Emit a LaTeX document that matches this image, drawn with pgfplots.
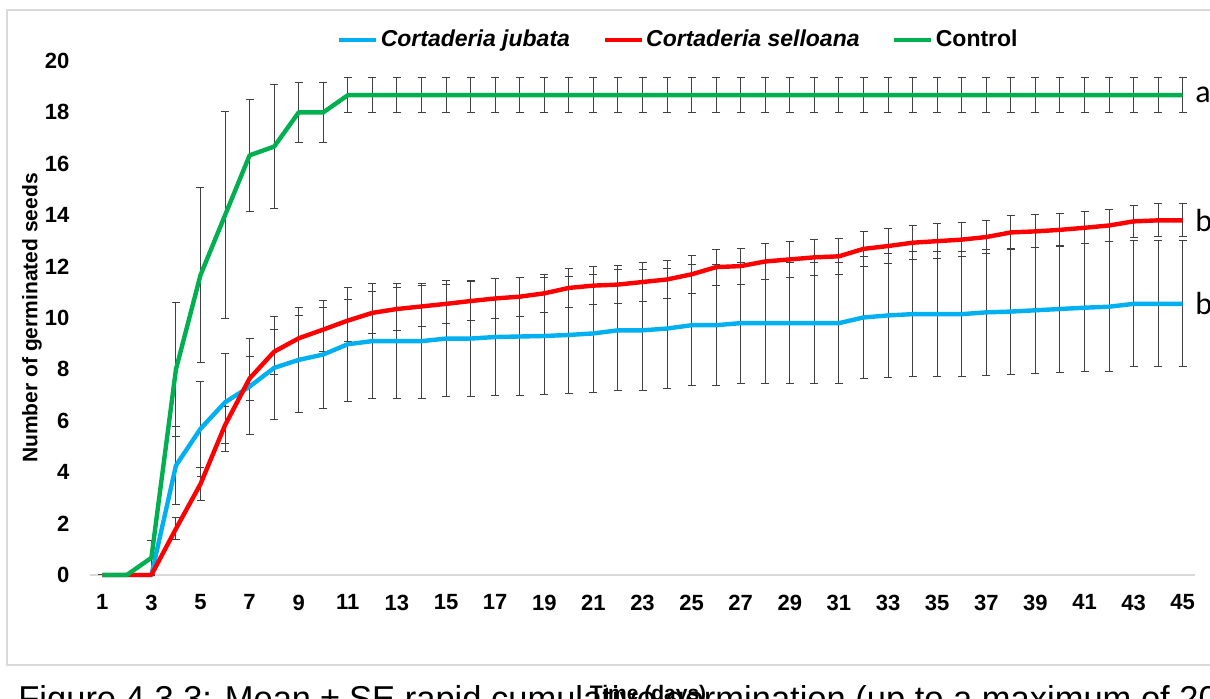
\documentclass[border=0pt]{standalone}
\usepackage{pgfplots}
\usepackage{pgfplotstable}
\pgfplotsset{compat=1.18}
\usepackage{fontspec}
\setmainfont{Liberation Sans}
\newfontfamily\calibri{Carlito}
\definecolor{cjub}{HTML}{00B0F0}
\definecolor{csel}{HTML}{FF0000}
\definecolor{cctl}{HTML}{00B050}
\definecolor{cframe}{HTML}{D9D9D9}

% day, mean and SE for C. jubata (j), C. selloana (s), control (c)
\pgfplotstableread{
d  jm    je    sm    se    cm    ce
1  0     0     0     0     0     0
2  0     0     0     0     0     0
3  0     0     0     0     0.67  0.67
4  4.26  1.52  1.80  0.43  8.00  2.62
5  5.69  1.84  3.54  0.64  11.67 3.40
6  6.72  1.90  5.83  0.72  14.00 4.03
7  7.33  1.88  7.65  0.85  16.33 2.18
8  8.06  2.00  8.69  0.87  16.67 2.40
9  8.37  2.05  9.21  0.87  18.00 1.16
10 8.58  2.09  9.55  0.87  18.00 1.16
11 8.98  2.21  9.90  0.83  18.67 0.67
12 9.10  2.24  10.20 0.82  18.67 0.67
13 9.10  2.24  10.35 0.82  18.67 0.67
14 9.10  2.24  10.45 0.80  18.67 0.67
15 9.20  2.25  10.55 0.77  18.67 0.67
16 9.20  2.25  10.66 0.76  18.67 0.67
17 9.26  2.27  10.76 0.76  18.67 0.67
18 9.28  2.30  10.83 0.76  18.67 0.67
19 9.30  2.28  10.96 0.75  18.67 0.67
20 9.34  2.29  11.17 0.77  18.67 0.67
21 9.40  2.31  11.26 0.75  18.67 0.67
22 9.52  2.35  11.30 0.73  18.67 0.67
23 9.52  2.35  11.40 0.75  18.67 0.67
24 9.59  2.33  11.50 0.73  18.67 0.67
25 9.72  2.35  11.70 0.73  18.67 0.67
26 9.72  2.35  11.98 0.70  18.67 0.67
27 9.80  2.36  12.02 0.70  18.67 0.67
28 9.80  2.36  12.20 0.70  18.67 0.67
29 9.80  2.36  12.28 0.69  18.67 0.67
30 9.80  2.36  12.36 0.69  18.67 0.67
31 9.80  2.36  12.40 0.69  18.67 0.67
32 10.02 2.39  12.69 0.69  18.67 0.67
33 10.10 2.41  12.80 0.67  18.67 0.67
34 10.15 2.43  12.93 0.67  18.67 0.67
35 10.15 2.43  12.99 0.67  18.67 0.67
36 10.15 2.43  13.05 0.66  18.67 0.67
37 10.22 2.45  13.15 0.64  18.67 0.67
38 10.25 2.44  13.33 0.65  18.67 0.67
39 10.30 2.45  13.37 0.64  18.67 0.67
40 10.35 2.46  13.43 0.64  18.67 0.67
41 10.40 2.48  13.51 0.63  18.67 0.67
42 10.44 2.52  13.60 0.64  18.67 0.67
43 10.55 2.45  13.76 0.62  18.67 0.67
44 10.55 2.45  13.80 0.64  18.67 0.67
45 10.55 2.45  13.80 0.64  18.67 0.67
}\germ

\begin{document}
\begin{tikzpicture}
\useasboundingbox (0,0) rectangle (605pt,-349.5pt);
\clip (0,0) rectangle (605pt,-349.5pt);
\draw[cframe, line width=0.9pt] (3.5pt,-5pt) rectangle (620pt,-332.5pt);
\begin{axis}[
    at={(45pt,-287.5pt)}, anchor=south west,
    scale only axis, width=552.5pt, height=257pt,
    xmin=0.5, xmax=45.5, ymin=0, ymax=20,
    xtick={1,3,...,45}, ytick={0,2,...,20},
    axis lines*=left,
    axis line style={-},
    x axis line style={cframe, line width=0.8pt},
    y axis line style={draw=none},
    major tick length=0pt,
    clip=false,
    /pgf/number format/assume math mode=true,
    ticklabel style={font=\fontsize{11}{13}\selectfont\bfseries},
    yticklabel style={xshift=-6.8pt},
    xticklabel style={yshift=-6.3pt},
    ylabel={Number of germinated seeds},
    every axis y label/.style={at={(axis description cs:-0.0525,0.5)}, rotate=90, anchor=center, font=\fontsize{10.5}{12}\selectfont\bfseries},
    xlabel={Time (days)},
    every axis x label/.style={at={(axis description cs:0.505,-0.2432)}, anchor=base, font=\fontsize{10.5}{12}\selectfont\bfseries},
    legend style={draw=none, fill=none, at={(axis description cs:0.5326,1.041)}, anchor=center,
        legend columns=3, font=\fontsize{11.5}{13}\selectfont\bfseries, inner sep=0pt,
        nodes={inner sep=1.2pt},
        /tikz/every even column/.append style={column sep=15pt}},
    legend image code/.code={\draw[#1, line width=2.2pt] (0pt,0pt) -- (18.5pt,0pt);},
    error bars/y dir=both, error bars/y explicit,
    error bars/error bar style={draw=black!75, line width=0.5pt},
    error bars/error mark options={rotate=90, draw=black!75, mark size=2pt, line width=0.5pt},
]
% error bars first, lines on top
\addplot[forget plot, draw=none, mark=none] table[x=d, y=jm, y error=je] {\germ};
\addplot[forget plot, draw=none, mark=none] table[x=d, y=sm, y error=se] {\germ};
\addplot[forget plot, draw=none, mark=none] table[x=d, y=cm, y error=ce] {\germ};
\addplot[cjub, line width=2.2pt, mark=none, line join=round, error bars/y dir=none] table[x=d, y=jm] {\germ};
\addlegendentry{\itshape Cortaderia jubata}
\addplot[csel, line width=2.2pt, mark=none, line join=round, error bars/y dir=none] table[x=d, y=sm] {\germ};
\addlegendentry{\itshape Cortaderia selloana}
\addplot[cctl, line width=2.2pt, mark=none, line join=round, error bars/y dir=none] table[x=d, y=cm] {\germ};
\addlegendentry{Control}
\node[anchor=west, inner sep=0pt, font=\calibri\fontsize{16}{18}\selectfont] at (axis cs:45.5,18.67) {a};
\node[anchor=west, inner sep=0pt, font=\calibri\fontsize{16}{18}\selectfont] at (axis cs:45.5,13.8) {b};
\node[anchor=west, inner sep=0pt, font=\calibri\fontsize{16}{18}\selectfont] at (axis cs:45.5,10.55) {b};
\end{axis}
\node[anchor=base west, inner sep=0pt, font=\fontsize{17.25}{20}\selectfont] at (9pt,-355.5pt) {Figure 4.3.3: Mean ± SE rapid cumulative germination (up to a maximum of 20 seeds)};
\end{tikzpicture}
\end{document}
